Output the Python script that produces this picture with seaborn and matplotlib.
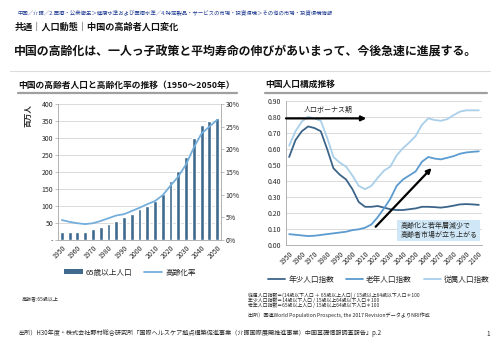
import numpy as np
import pandas as pd
import matplotlib
matplotlib.use('Agg')
import matplotlib.pyplot as plt
import seaborn as sns
from matplotlib.ticker import FuncFormatter
from matplotlib.patches import Rectangle
from matplotlib.lines import Line2D

# ---------------- data ----------------
years_left = list(range(1950, 2051, 5))
elderly_pop = [24, 24, 24, 25, 31, 39, 47, 57, 67, 77, 90, 101, 114, 135, 174,
               204, 245, 300, 339, 350, 359]
aging_rate = [4.4, 4.0, 3.7, 3.5, 3.7, 4.2, 4.8, 5.4, 5.7, 6.4, 7.1, 7.9, 8.6,
              9.9, 12.0, 14.0, 16.7, 20.4, 23.5, 25.0, 26.5]

years_right = list(range(1950, 2101, 5))
youth_index = [0.55, 0.655, 0.71, 0.74, 0.73, 0.71, 0.60, 0.48, 0.44, 0.41, 0.35,
               0.27, 0.24, 0.24, 0.245, 0.235, 0.225, 0.22, 0.22, 0.225, 0.23,
               0.24, 0.24, 0.238, 0.235, 0.24, 0.247, 0.255, 0.257, 0.255, 0.252]
old_index = [0.07, 0.066, 0.062, 0.058, 0.06, 0.065, 0.07, 0.075, 0.08, 0.085,
             0.095, 0.10, 0.11, 0.13, 0.175, 0.23, 0.29, 0.37, 0.41, 0.435, 0.46,
             0.52, 0.55, 0.54, 0.535, 0.545, 0.555, 0.57, 0.578, 0.582, 0.585]
total_index = [0.62, 0.71, 0.77, 0.80, 0.79, 0.775, 0.67, 0.55, 0.515, 0.49, 0.435,
               0.37, 0.35, 0.37, 0.42, 0.465, 0.49, 0.56, 0.605, 0.64, 0.68, 0.75,
               0.79, 0.78, 0.775, 0.785, 0.81, 0.832, 0.84, 0.84, 0.84]

left_xticks = list(range(1950, 2051, 10))
left_yticks = list(range(0, 401, 50))
right_yticks2 = list(range(0, 31, 5))
right_xticks = list(range(1950, 2101, 10))
right_yticks = [i / 10 for i in range(10)]

series_names = ['年少人口指数', '老年人口指数', '従属人口指数']

# ---------------- style ----------------
sns.set_style('white')
plt.rcParams['font.family'] = ['Noto Sans CJK JP', 'DejaVu Sans']

BAR = '#3f6a8e'
LINE_L = '#74aedb'
C_DARK = '#3b6489'
C_MED = '#5b9bd0'
C_LIGHT = '#a9cfe9'
GRID = '#d4d4d4'
SPINE = '#a6a6a6'
TXT = '#262626'

W, H = 500, 353
fig = plt.figure(figsize=(W / 100, H / 100), dpi=100)


def fx(x):
    return x / W


def fy(y):
    return 1 - y / H


# ---------------- header texts ----------------
fig.text(fx(17), fy(12.3), '中国／介護／2.医療・公衆衛生＞健康水準および医療水準／4.特定製品・サービスの市場・投資環境＞その他の市場・投資環境情報',
         fontsize=3.85, color='#1f3a93', va='center', ha='left')
fig.text(fx(15), fy(27), '共通｜人口動態｜中国の高齢者人口変化', fontsize=6.6,
         fontweight='bold', color='#111111', va='center', ha='left')
fig.text(fx(14), fy(52), '中国の高齢化は、一人っ子政策と平均寿命の伸びがあいまって、今後急速に進展する。',
         fontsize=8.6, fontweight='bold', color='#111111', va='center', ha='left')
fig.add_artist(Line2D([fx(10), fx(490)], [fy(71), fy(71)], color='#dddddd', lw=0.8))

fig.text(fx(18), fy(85), '中国の高齢者人口と高齢化率の推移（1950～2050年）', fontsize=6.3,
         fontweight='bold', color='#111111', va='center', ha='left')
fig.add_artist(Line2D([fx(18), fx(237)], [fy(92.5), fy(92.5)], color='#a0a0a0', lw=1.6))
fig.text(fx(265), fy(84), '中国人口構成推移', fontsize=6.3,
         fontweight='bold', color='#111111', va='center', ha='left')
fig.add_artist(Line2D([fx(265), fx(487)], [fy(92.5), fy(92.5)], color='#a0a0a0', lw=1.6))

# ---------------- left chart ----------------
ax1 = fig.add_axes([fx(58), fy(240), fx(221) - fx(58), fy(104) - fy(240)])
df1 = pd.DataFrame({'year': years_left, 'pop': elderly_pop, 'rate': aging_rate})
sns.barplot(data=df1, x='year', y='pop', native_scale=True, width=0.5,
            color=BAR, saturation=1, ax=ax1, zorder=2)
ax1.set_xlim(1947.5, 2052.5)
ax1.set_ylim(0, 400)
ax1.set_yticks(left_yticks)
ax1.set_yticklabels(['-' if v == 0 else str(v) for v in left_yticks])
ax1.set_xticks(left_xticks)
ax1.set_xticklabels([str(v) for v in left_xticks])
plt.setp(ax1.get_xticklabels(), rotation=45, ha='right', rotation_mode='anchor')
ax1.yaxis.grid(True, color=GRID, lw=0.6)
ax1.set_axisbelow(True)
ax1.set_xlabel('')
ax1.set_ylabel('')
for s in ['top', 'right']:
    ax1.spines[s].set_visible(False)
for s in ['left', 'bottom']:
    ax1.spines[s].set_color(SPINE)
    ax1.spines[s].set_linewidth(0.6)
ax1.tick_params(axis='both', labelsize=5, colors=TXT, length=2, width=0.5,
                color=SPINE, pad=1.5)
ax1.tick_params(axis='x', pad=1)

ax1b = ax1.twinx()
sns.lineplot(data=df1, x='year', y='rate', ax=ax1b, color=LINE_L, linewidth=1.3)
ax1b.set_ylim(0, 30)
ax1b.set_yticks(right_yticks2)
ax1b.yaxis.set_major_formatter(FuncFormatter(lambda v, p: f'{int(v)}%'))
ax1b.set_ylabel('')
ax1b.set_xlabel('')
for s in ['top', 'left', 'bottom']:
    ax1b.spines[s].set_visible(False)
ax1b.spines['right'].set_color(SPINE)
ax1b.spines['right'].set_linewidth(0.6)
ax1b.tick_params(axis='y', labelsize=5, colors=TXT, length=2, width=0.5,
                 color=SPINE, pad=1.5)
ax1b.set_xlim(1947.5, 2052.5)

fig.text(fx(28), fy(116), '百万人', rotation=90, fontsize=5.5, fontweight='bold',
         color=TXT, ha='center', va='center')

h_left = [Rectangle((0, 0), 1, 1, facecolor=BAR, edgecolor='none'),
          Line2D([], [], color=LINE_L, lw=1.3)]
fig.legend(h_left, ['65歳以上人口', '高齢化率'], loc='center',
           bbox_to_anchor=(fx(130), fy(272.5)), ncol=2, frameon=False,
           fontsize=5.5, handlelength=2.4, handleheight=0.6, columnspacing=1.5,
           handletextpad=0.4, labelcolor=TXT)

fig.text(fx(22), fy(299), '高齢者:65歳以上', fontsize=3.6, color=TXT, va='center')

# ---------------- right chart ----------------
ax2 = fig.add_axes([fx(286), fy(245.4), fx(482) - fx(286), fy(100.7) - fy(245.4)])
df2 = pd.DataFrame({'year': years_right, series_names[0]: youth_index,
                    series_names[1]: old_index, series_names[2]: total_index})
long2 = df2.melt(id_vars='year', var_name='series', value_name='value')
sns.lineplot(data=long2, x='year', y='value', hue='series', hue_order=series_names,
             palette={series_names[0]: C_DARK, series_names[1]: C_MED,
                      series_names[2]: C_LIGHT},
             linewidth=1.3, ax=ax2, legend=False)
ax2.set_xlim(1947.5, 2102.5)
ax2.set_ylim(0, 0.9)
ax2.set_yticks(right_yticks)
ax2.yaxis.set_major_formatter(FuncFormatter(lambda v, p: f'{v:.2f}'))
ax2.set_xticks(right_xticks)
ax2.set_xticklabels([str(v) for v in right_xticks])
plt.setp(ax2.get_xticklabels(), rotation=45, ha='right', rotation_mode='anchor')
ax2.yaxis.grid(True, color=GRID, lw=0.6)
ax2.set_axisbelow(True)
ax2.set_xlabel('')
ax2.set_ylabel('')
for s in ['top', 'right']:
    ax2.spines[s].set_visible(False)
for s in ['left', 'bottom']:
    ax2.spines[s].set_color(SPINE)
    ax2.spines[s].set_linewidth(0.6)
ax2.tick_params(axis='both', labelsize=5, colors=TXT, length=2, width=0.5,
                color=SPINE, pad=1.5)
ax2.tick_params(axis='x', pad=1)

# annotations
ax2.annotate('', xy=(2011, 0.79), xytext=(1947.5, 0.79),
             arrowprops=dict(arrowstyle='-|>', color='black', lw=1.6,
                             mutation_scale=7, shrinkA=0, shrinkB=0),
             annotation_clip=False)
fig.text(fx(304), fy(110), '人口ボーナス期', fontsize=5, color=TXT, va='center', ha='left')
ax2.annotate('', xy=(2062.6, 0.481), xytext=(2018.4, 0.116),
             arrowprops=dict(arrowstyle='-|>', color='black', lw=1.6,
                             mutation_scale=7, shrinkA=0, shrinkB=0),
             annotation_clip=False)
fig.add_artist(Rectangle((fx(396.5), fy(241)), (479.5 - 396.5) / W, 21.5 / H,
                         transform=fig.transFigure, facecolor='#cfe7f7',
                         edgecolor='none', zorder=2))
fig.text(fx(401), fy(226), '高齢化と若年層減少で', fontsize=5, color=TXT,
         va='center', ha='left', zorder=3)
fig.text(fx(401), fy(235.3), '高齢者市場が立ち上がる', fontsize=5, color=TXT,
         va='center', ha='left', zorder=3)

h_right = [Line2D([], [], color=c, lw=1.3) for c in (C_DARK, C_MED, C_LIGHT)]
fig.legend(h_right, series_names, loc='center', bbox_to_anchor=(fx(379), fy(280)),
           ncol=3, frameon=False, fontsize=5.5, handlelength=2.2,
           columnspacing=1.6, handletextpad=0.4, labelcolor=TXT)

# notes
notes = ['従属人口指数＝(14歳以下人口 ＋ 65歳以上人口) / 15歳以上64歳以下人口＊100',
         '年少人口指数＝14歳以下人口 / 15歳以上64歳以下人口＊100',
         '老年人口指数＝65歳以上人口 / 15歳以上64歳以下人口＊100']
for i, t in enumerate(notes):
    fig.text(fx(248), fy(295.7 + 4.6 * i), t, fontsize=3.5, color=TXT, va='center')
fig.text(fx(248), fy(315), '出所）国連World Population Prospects, the 2017 RevisionデータよりNRI作成',
         fontsize=3.7, color=TXT, va='center')
fig.text(fx(18), fy(333), '出所）H30年度・株式会社野村総合研究所「国際ヘルスケア拠点構築促進事業（介護国際展開推進事業）中国基礎情報調査報告」p.2',
         fontsize=4.4, color=TXT, va='center')
fig.text(fx(488), fy(334), '1', fontsize=4.5, color=TXT, va='center', ha='center')

fig.savefig('out.png', dpi=100)
